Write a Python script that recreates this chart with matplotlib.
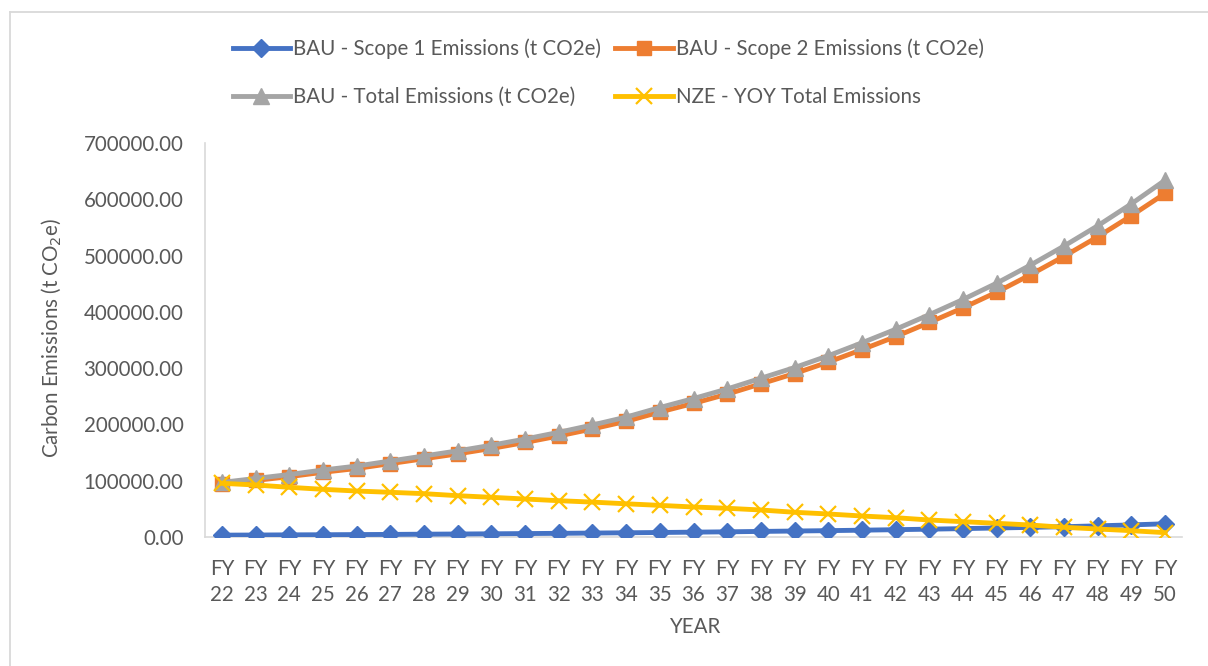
import numpy as np
import matplotlib.pyplot as plt
from matplotlib.lines import Line2D

plt.rcParams['font.family'] = ['Lato', 'DejaVu Sans']

# fiscal years FY22 .. FY50
years = ["FY\n%d" % y for y in range(22, 51)]

scope1 = [3300, 3500, 3800, 4000, 4300, 4600, 5000, 5300, 5700, 6100,
          6500, 7000, 7500, 8000, 8600, 9200, 9900, 10600, 11300, 12100,
          13000, 13900, 14900, 16000, 17100, 18300, 19800, 21500, 23500]

scope2 = [93700, 100500, 107200, 115000, 121700, 130400, 139000, 147700, 157300, 167900,
          179500, 192000, 205500, 222000, 237400, 253800, 272100, 290400, 310700, 332900,
          356000, 381100, 407100, 435000, 465900, 498700, 533400, 571000, 610500]

total = [97000, 104000, 111000, 119000, 126000, 135000, 144000, 153000, 163000, 174000,
         186000, 199000, 213000, 230000, 246000, 263000, 282000, 301000, 322000, 345000,
         369000, 395000, 422000, 451000, 483000, 517000, 553000, 592000, 634000]

nze = [95400, 92400, 88300, 84700, 81700, 79400, 77000, 73400, 70500, 67500,
       64500, 62000, 59000, 56200, 53300, 51000, 48000, 43900, 40900, 37300,
       34300, 30200, 27200, 24300, 21300, 17200, 14200, 11200, 7700]

labels = ["BAU - Scope 1 Emissions (t CO2e)", "BAU - Scope 2 Emissions (t CO2e)",
          "BAU - Total Emissions (t CO2e)", "NZE - YOY Total Emissions"]

txt = "#595959"
fs = 14.8
fig = plt.figure(figsize=(12.08, 6.66), dpi=100)
ax = fig.add_axes([205 / 1208, 1 - 537 / 666, (1182 - 205) / 1208, (537 - 143) / 666])

x = np.arange(len(years))
lw = 3.5
h1, = ax.plot(x, scope1, color="#4472C4", lw=lw, marker="D", ms=9, label=labels[0], zorder=3)
h2, = ax.plot(x, scope2, color="#ED7D31", lw=lw, marker="s", ms=10, label=labels[1], zorder=3)
h3, = ax.plot(x, total, color="#A5A5A5", lw=lw, marker="^", ms=11, label=labels[2], zorder=4)
h4, = ax.plot(x, nze, color="#FFC000", lw=lw, marker="x", ms=11, mew=1.6, label=labels[3], zorder=5)

ax.set_xlim(-0.5, len(years) - 0.5)
ax.set_ylim(0, 700000)
ax.set_yticks(np.arange(0, 700001, 100000))
ax.set_yticklabels(["%.2f" % v for v in np.arange(0, 700001, 100000)])
ax.set_xticks(x)
ax.set_xticklabels(years, linespacing=1.35)
ax.tick_params(axis="both", length=0, labelsize=fs, labelcolor=txt)
ax.tick_params(axis="y", pad=15.5)
ax.tick_params(axis="x", pad=16)
for s in ["top", "right"]:
    ax.spines[s].set_visible(False)
for s in ["left", "bottom"]:
    ax.spines[s].set_color("#D9D9D9")
    ax.spines[s].set_linewidth(1.2)

fig.text(52 / 1208, 1 - 338 / 666, "Carbon Emissions (t CO$_2$e)", rotation=90,
         ha="center", va="center", fontsize=fs, color=txt)
fig.text(695 / 1208, 1 - 627 / 666, "YEAR", ha="center", va="center", fontsize=fs, color=txt)

# one legend, two columns: (scope1, total) | (scope2, nze)
fig.legend([h1, h3, h2, h4], [labels[0], labels[2], labels[1], labels[3]],
           loc="center left", bbox_to_anchor=(214 / 1208, 1 - 73 / 666),
           ncol=2, frameon=False, fontsize=fs, handlelength=2.8, handletextpad=0.15,
           columnspacing=0.7, labelspacing=1.35, labelcolor=txt)

# chart border (top and left edges visible)
fig.add_artist(Line2D([9.5 / 1208, 9.5 / 1208], [0, 1 - 11.5 / 666], transform=fig.transFigure,
                      color="#D9D9D9", lw=1.3))
fig.add_artist(Line2D([9.5 / 1208, 1], [1 - 11.5 / 666, 1 - 11.5 / 666], transform=fig.transFigure,
                      color="#D9D9D9", lw=1.3))

fig.savefig("out.png", dpi=100)
